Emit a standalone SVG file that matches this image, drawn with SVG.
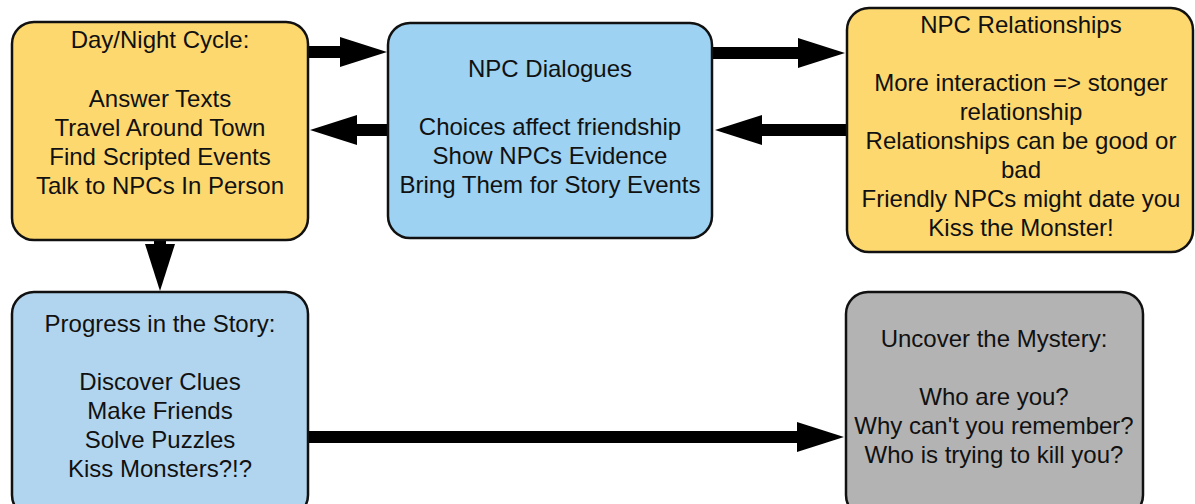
<svg xmlns="http://www.w3.org/2000/svg" width="1195" height="504" viewBox="0 0 1195 504">
<style>
.box{stroke:#111;stroke-width:2.5}
.y{fill:#fdd86f}
.b{fill:#9dd2f2}
.lb{fill:#b1d5ee}
.g{fill:#b3b3b3}
text{font-family:"Liberation Sans",Arial,sans-serif;font-size:24px;fill:#111;text-anchor:middle}
.c{stroke:#000;stroke-width:12;fill:none}
</style>
<defs>
<marker id="ah" markerUnits="userSpaceOnUse" markerWidth="48" markerHeight="32" refX="0" refY="15" orient="auto" overflow="visible">
<path d="M0,0 L47,15 L0,30 z" fill="#000"/>
</marker>
</defs>
<rect width="1195" height="504" fill="#fff"/>
<g id="connectors">
<line class="c" x1="308" y1="52" x2="340" y2="52" marker-end="url(#ah)"/>
<line class="c" x1="388" y1="130" x2="357" y2="130" marker-end="url(#ah)"/>
<line class="c" x1="712" y1="53" x2="798" y2="53" marker-end="url(#ah)"/>
<line class="c" x1="847" y1="130" x2="762" y2="130" marker-end="url(#ah)"/>
<line class="c" x1="160" y1="240" x2="160" y2="244" marker-end="url(#ah)"/>
<line class="c" x1="308" y1="437" x2="797" y2="437" marker-end="url(#ah)"/>
</g>
<g id="day-night">
<rect class="box y" x="12" y="22" width="296" height="218" rx="22"/>
<text x="160" y="48">Day/Night Cycle:</text>
<text x="160" y="107">Answer Texts</text>
<text x="160" y="136">Travel Around Town</text>
<text x="160" y="165">Find Scripted Events</text>
<text x="160" y="194">Talk to NPCs In Person</text>
</g>
<g id="npc-dialogues">
<rect class="box b" x="388" y="23" width="324" height="215" rx="22"/>
<text x="550" y="77">NPC Dialogues</text>
<text x="550" y="135">Choices affect friendship</text>
<text x="550" y="164">Show NPCs Evidence</text>
<text x="550" y="193">Bring Them for Story Events</text>
</g>
<g id="npc-relationships">
<rect class="box y" x="847" y="8" width="346" height="244" rx="22"/>
<text x="1021" y="33">NPC Relationships</text>
<text x="1021" y="91">More interaction =&gt; stonger</text>
<text x="1021" y="120">relationship</text>
<text x="1021" y="149">Relationships can be good or</text>
<text x="1021" y="178">bad</text>
<text x="1021" y="207">Friendly NPCs might date you</text>
<text x="1021" y="236">Kiss the Monster!</text>
</g>
<g id="progress">
<rect class="box lb" x="12" y="292" width="296" height="225" rx="22"/>
<text x="160" y="332">Progress in the Story:</text>
<text x="160" y="390">Discover Clues</text>
<text x="160" y="419">Make Friends</text>
<text x="160" y="448">Solve Puzzles</text>
<text x="160" y="477">Kiss Monsters?!?</text>
</g>
<g id="mystery">
<rect class="box g" x="846" y="292" width="297" height="225" rx="22"/>
<text x="994" y="347">Uncover the Mystery:</text>
<text x="994" y="405">Who are you?</text>
<text x="994" y="434">Why can't you remember?</text>
<text x="994" y="463">Who is trying to kill you?</text>
</g>
</svg>
